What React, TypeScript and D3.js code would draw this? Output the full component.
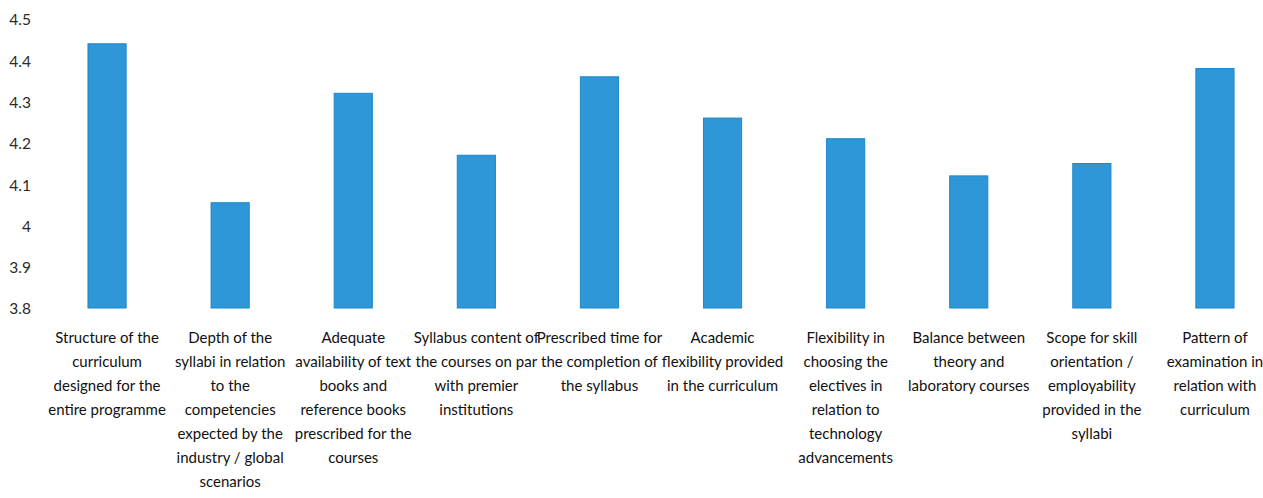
import React, { useEffect, useRef } from 'react';
import * as d3 from 'd3';

const categories = [
  'Structure of the curriculum designed for the entire programme',
  'Depth of the syllabi in relation to the competencies expected by the industry / global scenarios',
  'Adequate availability of text books and reference books prescribed for the courses',
  'Syllabus content of the courses on par with premier institutions',
  'Prescribed time for the completion of the syllabus',
  'Academic flexibility provided in the curriculum',
  'Flexibility in choosing the electives in relation to technology advancements',
  'Balance between theory and laboratory courses',
  'Scope for skill orientation / employability provided in the syllabi',
  'Pattern of examination in relation with curriculum',
];

// wrapped label lines as they appear under each bar
const labelLines = [
  ['Structure of the', 'curriculum', 'designed for the', 'entire programme'],
  ['Depth of the', 'syllabi in relation', 'to the', 'competencies', 'expected by the', 'industry / global', 'scenarios'],
  ['Adequate', 'availability of text', 'books and', 'reference books', 'prescribed for the', 'courses'],
  ['Syllabus content of', 'the courses on par', 'with premier', 'institutions'],
  ['Prescribed time for', 'the completion of', 'the syllabus'],
  ['Academic', 'flexibility provided', 'in the curriculum'],
  ['Flexibility in', 'choosing the', 'electives in', 'relation to', 'technology', 'advancements'],
  ['Balance between', 'theory and', 'laboratory courses'],
  ['Scope for skill', 'orientation /', 'employability', 'provided in the', 'syllabi'],
  ['Pattern of', 'examination in', 'relation with', 'curriculum'],
];

const values = [4.44, 4.055, 4.32, 4.17, 4.36, 4.26, 4.21, 4.12, 4.15, 4.38];

const yTicks = [3.8, 3.9, 4, 4.1, 4.2, 4.3, 4.4, 4.5];

const W = 1263;
const H = 498;
const FONT = 'Lato, "Open Sans", sans-serif';

const App = () => {
  const svgRef = useRef<SVGSVGElement>(null);

  useEffect(() => {
    const svg = d3.select(svgRef.current);
    svg.selectAll('*').remove();

    // y scale from 3.8 up to 4.5
    const y = d3.scaleLinear().domain([3.8, 4.5]).range([308, 19]);

    const x = d3.scaleBand()
      .domain(categories)
      .range([45.5, 1276.5])
      .paddingInner(0.69)
      .paddingOuter(0.345);

    // bars
    svg.append('g')
      .selectAll('rect')
      .data(values)
      .enter().append('rect')
      .attr('x', (d, i) => x(categories[i]))
      .attr('y', d => y(d))
      .attr('width', x.bandwidth())
      .attr('height', d => y(3.8) - y(d))
      .attr('fill', '#2d97d8')
      .attr('stroke', '#1f86c9')
      .attr('stroke-width', 1);

    // y tick labels, no axis line
    svg.append('g')
      .selectAll('text')
      .data(yTicks)
      .enter().append('text')
      .attr('x', 31)
      .attr('y', d => y(d) + 1)
      .attr('dy', '0.35em')
      .attr('text-anchor', 'end')
      .attr('font-family', FONT)
      .attr('font-size', 15.5)
      .attr('fill', '#2a2a2a')
      .text(d => d3.format('')(d));

    // category labels
    const lab = svg.append('g')
      .selectAll('text')
      .data(categories)
      .enter().append('text')
      .attr('x', d => (x(d) as number) + x.bandwidth() / 2)
      .attr('y', 343)
      .attr('text-anchor', 'middle')
      .attr('font-family', FONT)
      .attr('font-size', 15)
      .attr('fill', '#111');

    lab.each(function (d, i) {
      d3.select(this).selectAll('tspan')
        .data(labelLines[i])
        .enter().append('tspan')
        .attr('x', (x(d) as number) + x.bandwidth() / 2)
        .attr('dy', (l, j) => (j === 0 ? 0 : 24))
        .text(l => l);
    });
  }, []);

  return (
    <div style={{ position: 'absolute', left: 0, top: 0, background: '#fff' }}>
      <svg ref={svgRef} width={W} height={H} style={{ display: 'block' }} />
    </div>
  );
};

export default App;
